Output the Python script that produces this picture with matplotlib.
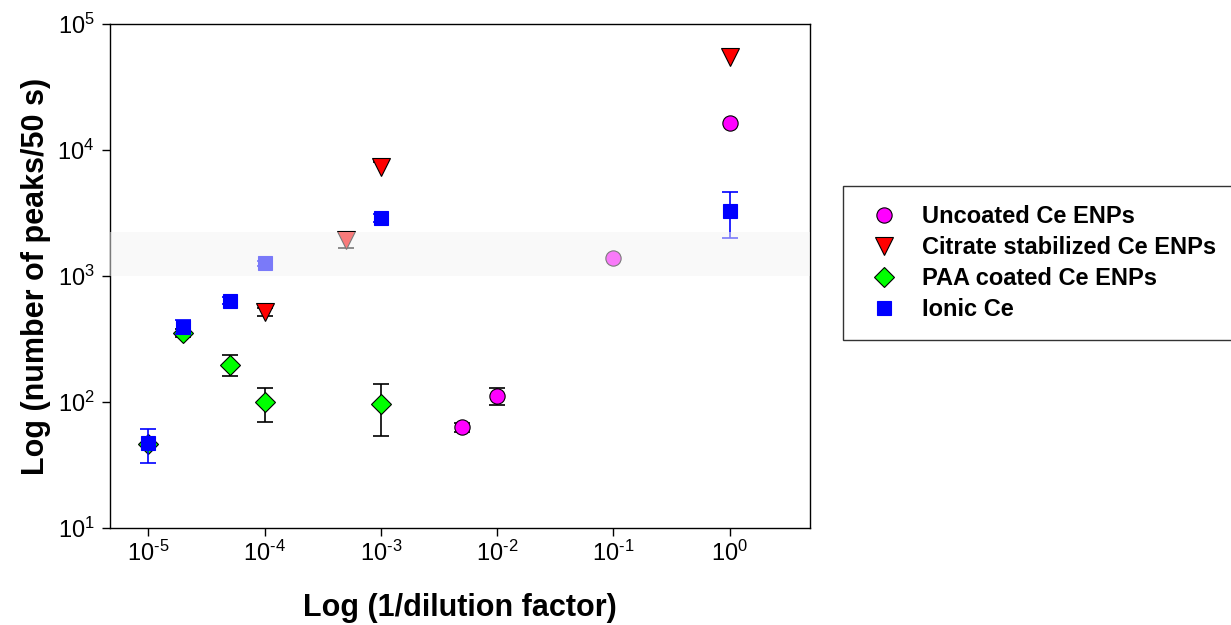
import matplotlib
matplotlib.use("Agg")
import numpy as np
import matplotlib.pyplot as plt
from matplotlib.lines import Line2D
from matplotlib.ticker import FuncFormatter

plt.rcParams['font.family'] = ['Liberation Sans', 'DejaVu Sans']
plt.rcParams['mathtext.default'] = 'regular'
plt.rcParams['mathtext.fontset'] = 'custom'
plt.rcParams['mathtext.rm'] = 'Liberation Sans'
plt.rcParams['axes.unicode_minus'] = False

# ---- data ----
x_uncoated = [5e-3, 1e-2, 1e-1, 1.0]
y_uncoated = [63, 112, 1380, 16500]
e_uncoated = [5, 17, 0, 0]

x_citrate = [1e-4, 5e-4, 1e-3, 1.0]
y_citrate = [520, 1930, 7300, 55000]
e_citrate_low = [40, 260, 0, 0]
e_citrate_high = [40, 260, 800, 0]

x_paa = [1e-5, 2e-5, 5e-5, 1e-4, 1e-3]
y_paa = [46, 355, 197, 100, 96]
e_paa = [0, 25, 37, 30, 42]

x_ionic = [1e-5, 2e-5, 5e-5, 1e-4, 1e-3, 1.0]
y_ionic = [47, 396, 637, 1262, 2890, 3300]
e_ionic = [14, 50, 40, 60, 200, 1300]

band_low, band_high = 1000, 2240

labels = ["Uncoated Ce ENPs", "Citrate stabilized Ce ENPs",
          "PAA coated Ce ENPs", "Ionic Ce"]

fig = plt.figure(figsize=(12.31, 6.25), dpi=100)
ax = fig.add_axes([110/1231, 1-528/625, 700/1231, 504/625])

def plot_series(x, y, elow, ehigh, marker, fc, ec, ms, ecolor, cap, z):
    keep = [i for i in range(len(x)) if elow[i] > 0 or ehigh[i] > 0]
    xe = [x[i] for i in keep]
    ye = [y[i] for i in keep]
    el = [elow[i] for i in keep]
    eh = [ehigh[i] for i in keep]
    if keep:
        # draw error segments and caps (skip caps for zero-length sides)
        ax.errorbar(xe, ye, yerr=[el, eh], fmt='none', ecolor=ecolor,
                    elinewidth=1.2, capsize=0, zorder=z)
        for xi, yi, a, b in zip(xe, ye, el, eh):
            for yy, d in ((yi - a, a), (yi + b, b)):
                if d > 0:
                    ax.plot([xi], [yy], linestyle='none', marker='_',
                            markersize=2 * cap, markeredgewidth=1.2,
                            color=ecolor, zorder=z)
    ax.plot(x, y, linestyle='none', marker=marker, markerfacecolor=fc,
            markeredgecolor=ec, markersize=ms, markeredgewidth=0.8, zorder=z + 0.5)

plot_series(x_uncoated, y_uncoated, e_uncoated, e_uncoated, 'o', '#ff00ff', 'black', 11, 'black', 6, 3)
plot_series(x_citrate, y_citrate, e_citrate_low, e_citrate_high, 'v', '#ff0000', 'black', 13, 'black', 6, 4)
plot_series(x_paa, y_paa, e_paa, e_paa, 'D', '#00ff00', 'black', 10, 'black', 6, 5)
plot_series(x_ionic, y_ionic, e_ionic, e_ionic, 's', '#0000ff', '#0000ff', 10.5, '#0000ff', 5.5, 6)

# translucent band
ax.axhspan(band_low, band_high, facecolor=(0.96, 0.96, 0.96), alpha=0.5,
           edgecolor='none', zorder=10)

ax.set_xscale('log')
ax.set_yscale('log')
ax.set_xlim(10**-5.33, 10**0.69)
ax.set_ylim(10, 1e5)
ax.set_xticks([1e-5, 1e-4, 1e-3, 1e-2, 1e-1, 1])
ax.set_yticks([10, 100, 1e3, 1e4, 1e5])
ax.minorticks_off()

def fmt(v, pos):
    p = int(round(np.log10(v)))
    if p < 0:
        return r'$10^{\text{-}%d}$' % (-p)
    return r'$10^{%d}$' % p

ax.xaxis.set_major_formatter(FuncFormatter(fmt))
ax.yaxis.set_major_formatter(FuncFormatter(fmt))
ax.tick_params(axis='both', which='major', direction='out', length=6,
               width=1, labelsize=17, colors='black')
ax.tick_params(axis='x', pad=3)
ax.tick_params(axis='y', pad=5)
for s in ax.spines.values():
    s.set_linewidth(1)
    s.set_color('black')

ax.set_xlabel("Log (1/dilution factor)", fontsize=22, fontweight='bold', labelpad=20)
ax.set_ylabel("Log (number of peaks/50 s)", fontsize=22, fontweight='bold', labelpad=5)

handles = [
    Line2D([], [], linestyle='none', marker='o', markerfacecolor='#ff00ff',
           markeredgecolor='black', markersize=11, markeredgewidth=0.8),
    Line2D([], [], linestyle='none', marker='v', markerfacecolor='#ff0000',
           markeredgecolor='black', markersize=13, markeredgewidth=0.8),
    Line2D([], [], linestyle='none', marker='D', markerfacecolor='#00ff00',
           markeredgecolor='black', markersize=10, markeredgewidth=0.8),
    Line2D([], [], linestyle='none', marker='s', markerfacecolor='#0000ff',
           markeredgecolor='#0000ff', markersize=10.5, markeredgewidth=0.8),
]
leg = fig.legend(handles, labels, loc='upper left',
                 bbox_to_anchor=(843/1231, 1-186/625),
                 frameon=True, fancybox=False, edgecolor='black',
                 prop={'size': 17, 'weight': 'bold'},
                 borderpad=0.8, labelspacing=0.34, handletextpad=0.64,
                 handlelength=1.9, borderaxespad=0)
leg.get_frame().set_linewidth(1)

fig.savefig("out.png", dpi=100)
